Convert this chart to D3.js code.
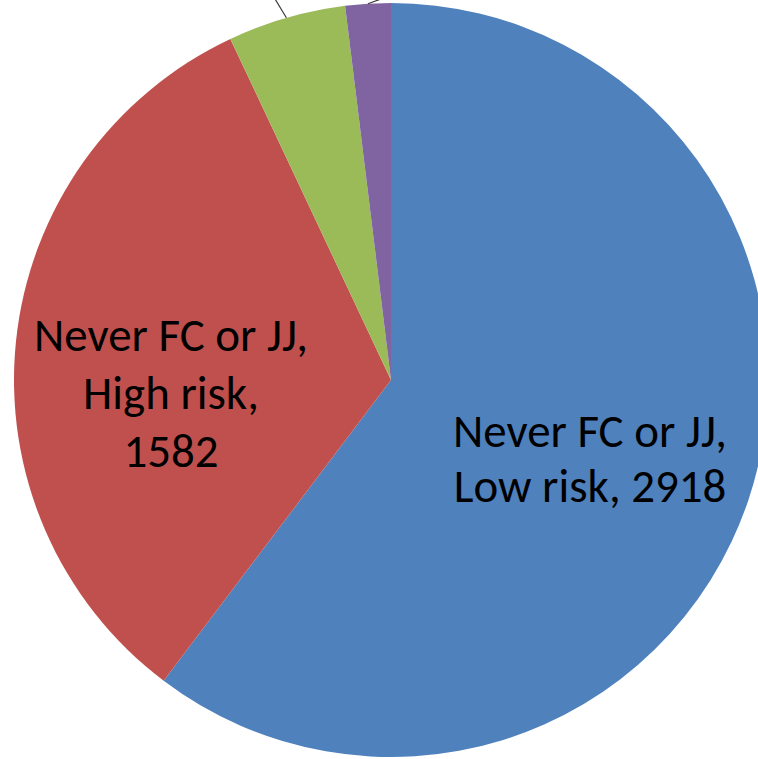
<!DOCTYPE html>
<html>
<head>
<meta charset="utf-8">
<script src="https://cdn.jsdelivr.net/npm/d3@7"></script>
<style>
  html, body { margin: 0; padding: 0; background: #ffffff; }
  svg { display: block; }
</style>
</head>
<body>
<svg id="chart" width="758" height="759"></svg>
<script>
// Respondent groups, in the order they run clockwise from 12 o'clock
const categories = ["Never FC or JJ, Low risk", "Never FC or JJ, High risk", "Ever FC", "Ever JJ"];
const values = [2918, 1582, 245, 94];
const colors = ["#4F81BD", "#C0504D", "#9BBB59", "#8064A2"];
// Text lines printed inside the two large slices (null = label sits outside the plot)
const labelLines = [
  ["Never FC or JJ,", "Low risk, 2918"],
  ["Never FC or JJ,", "High risk,", "1582"],
  null,
  null
];

const W = 758, H = 759;
const cx = 391, cy = 380, radius = 377;
const fontFamily = "Carlito, Calibri, Lato, 'Open Sans', sans-serif";

const svg = d3.select("#chart");
const g = svg.append("g").attr("transform", `translate(${cx},${cy})`);

const data = categories.map((c, i) => ({ name: c, value: values[i], color: colors[i], lines: labelLines[i] }));

const pie = d3.pie().value(d => d.value).sort(null);
const arcs = pie(data);
const arc = d3.arc().innerRadius(0).outerRadius(radius);

g.selectAll("path.slice")
  .data(arcs)
  .join("path")
  .attr("class", "slice")
  .attr("d", arc)
  .attr("fill", d => d.data.color)
  .attr("stroke", "none");

// Leader lines running from the rim of the two thin slices to their outside labels
const leaderDir = { 2: [-0.52, -0.86], 3: [0.94, -0.34] };
const leaderLen = { 2: 60, 3: 60 };
arcs.forEach((a, i) => {
  if (!leaderDir[i]) return;
  const mid = (a.startAngle + a.endAngle) / 2;
  const x0 = Math.sin(mid) * radius, y0 = -Math.cos(mid) * radius;
  const [ux, uy] = leaderDir[i];
  g.append("line")
    .attr("x1", x0).attr("y1", y0)
    .attr("x2", x0 + ux * leaderLen[i]).attr("y2", y0 + uy * leaderLen[i])
    .attr("stroke", "#3a3a3a")
    .attr("stroke-width", 1.2);
});

// In-slice labels: centre point relative to the pie centre, and line spacing, per slice
const labelCenter = { 0: [199, 78], 1: [-220, 13] };
const lineGap = { 0: 55, 1: 58 };
const targetWidth = 274;

// size the font so the widest line fills the measured width
const probe = svg.append("text").attr("font-family", fontFamily).attr("font-size", 40).text("Never FC or JJ,");
const probeW = probe.node().getComputedTextLength();
probe.remove();
const fontSize = Math.max(30, Math.min(48, 40 * targetWidth / probeW));

arcs.forEach((a, i) => {
  const lines = a.data.lines;
  if (!lines) return;
  const [lx, ly] = labelCenter[i];
  const t = g.append("text")
    .attr("text-anchor", "middle")
    .attr("font-family", fontFamily)
    .attr("font-size", fontSize)
    .attr("fill", "#000000");
  const first = ly - (lines.length - 1) * lineGap[i] / 2;
  lines.forEach((ln, k) => {
    t.append("tspan")
      .attr("x", lx)
      .attr("y", first + k * lineGap[i])
      .attr("dy", "0.35em")
      .text(ln);
  });
});
</script>
</body>
</html>
